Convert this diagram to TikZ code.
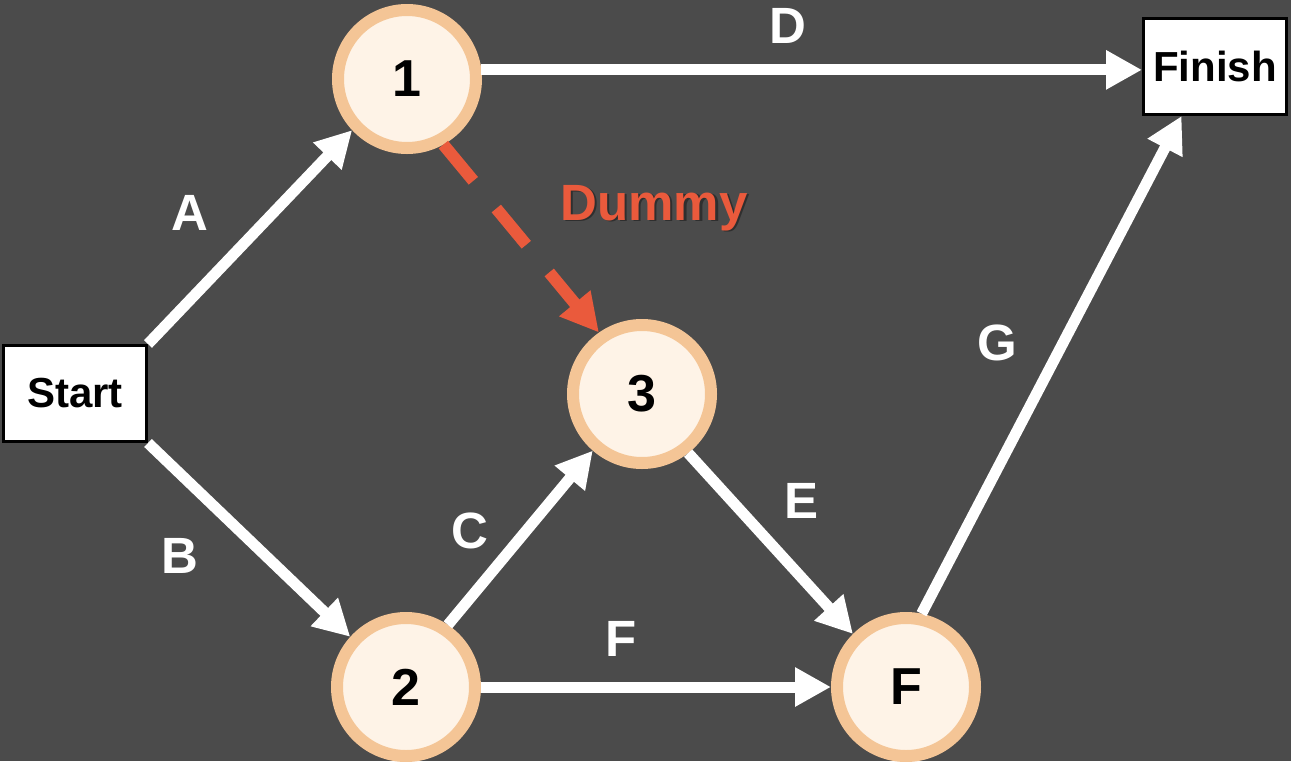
\documentclass[tikz,border=0pt]{standalone}
\usepackage{fontspec}
\setmainfont{Liberation Sans}
\usetikzlibrary{arrows.meta}
\definecolor{bg}{HTML}{4B4B4B}
\definecolor{ring}{HTML}{F4C596}
\definecolor{core}{HTML}{FEF3E7}
\definecolor{dum}{HTML}{EA5A3C}
\begin{document}
\begin{tikzpicture}[x=1pt,y=-1pt,
  event/.style={circle,draw=ring,fill=core,line width=12pt,minimum size=138pt,inner sep=0pt,
    font=\fontsize{52}{52}\selectfont\bfseries,text=black},
  term/.style={rectangle,draw=black,fill=white,line width=3pt,minimum width=143pt,minimum height=96pt,
    inner sep=0pt,font=\fontsize{42}{42}\selectfont\bfseries,text=black},
  act/.style={draw=white,line width=11pt,-{Triangle[length=36pt,width=37pt]}},
  dummyact/.style={draw=dum,line width=12pt,dash pattern=on 47pt off 36pt,-{Triangle[length=38pt,width=38pt]}},
  lbl/.style={text=white,anchor=base,inner sep=0pt,font=\fontsize{51}{51}\selectfont\bfseries}]
\useasboundingbox (0,0) rectangle (1291,761);
\fill[bg] (0,0) rectangle (1291,761);

% nodes
\node[term]  (start) at (75,393.5) {Start};
\node[term]  (fin)   at (1215,66.5) {Finish};
\node[event] (n1) at (407,79) {1};
\node[event] (n3) at (642,394) {3};
\node[event] (n2) at (406,687) {2};
\node[event] (nF) at (906,687) {F};

% connectors
\draw[act] (start.north east) -- (n1.223);
\draw[act] (start.south east) -- (n2.138);
\draw[act] (n1.7) -- (n1.7 -| fin.west);
\draw[act] (n2.56) -- (n3.229);
\draw[act] (n3.-52) -- (nF.135);
\draw[act] (n2.east) -- (nF.west);
\draw[act] (nF.78) -- (fin.-124);
\draw[dummyact] (n1.-61) -- (n3.125);

% labels
\node[lbl] (la) at (190,230) {A};
\node[lbl] (lb) at (180,573) {B};
\node[lbl] (lc) at (470,548) {C};
\node[lbl] (ld) at (788,43) {D};
\node[lbl] (le) at (802,518) {E};
\node[lbl] (lf) at (621,656) {F};
\node[lbl] (lg) at (997,360) {G};
\node[lbl,text=black!85,opacity=0.75] (ldums) at (656.5,221.5) {Dummy};
\node[lbl,text=dum] (ldum) at (654,220) {Dummy};
\end{tikzpicture}
\end{document}
